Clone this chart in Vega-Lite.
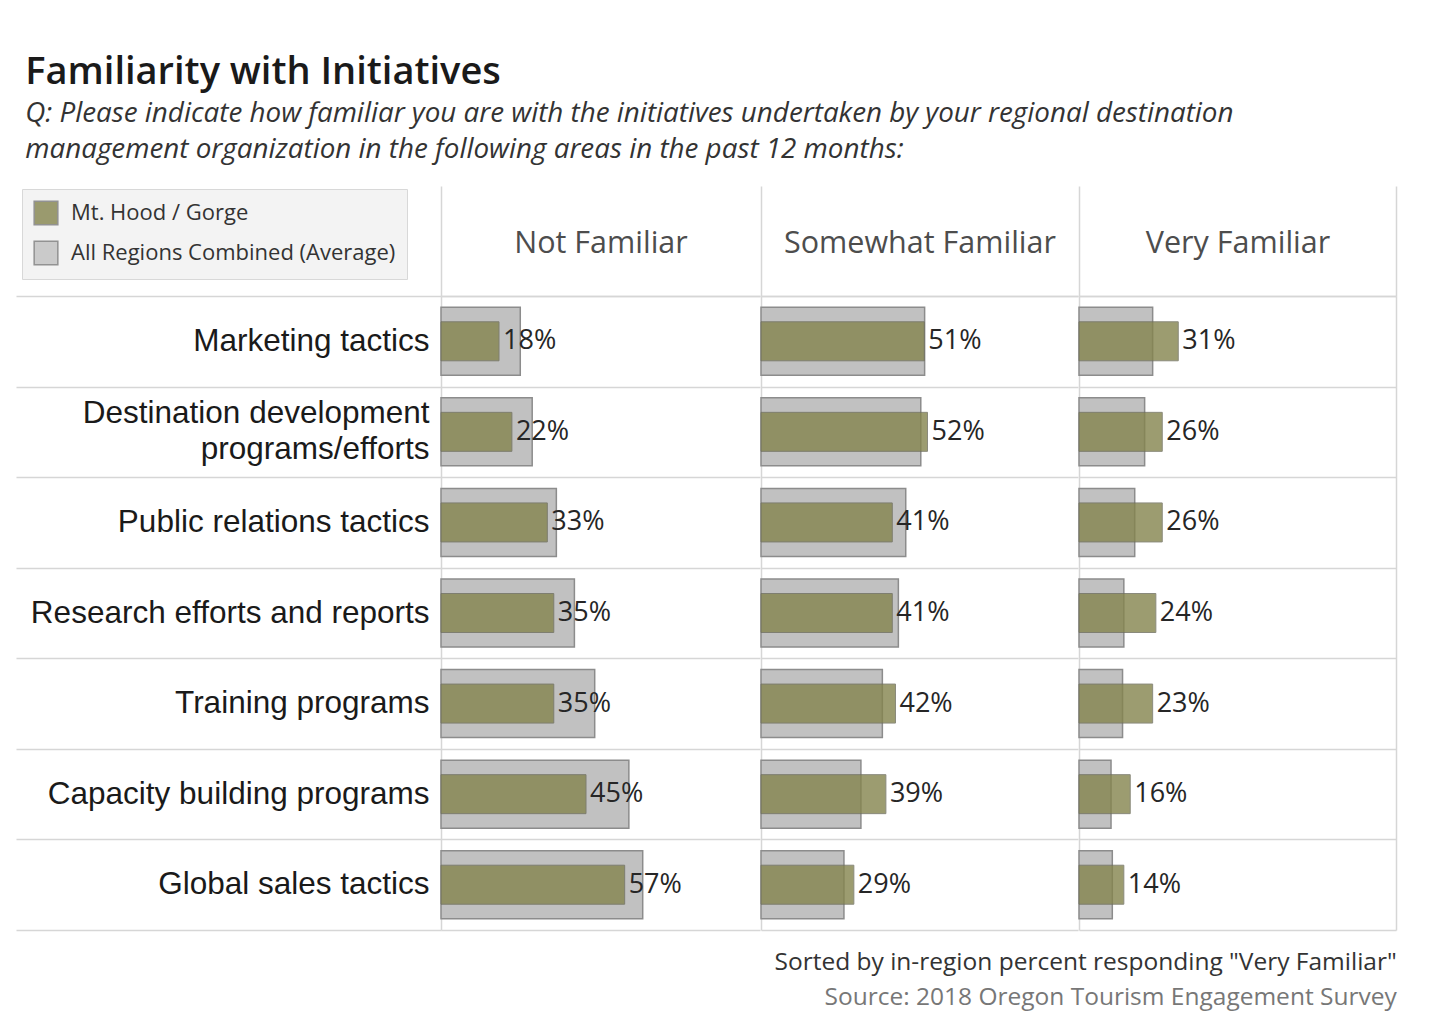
{
  "$schema": "https://vega.github.io/schema/vega-lite/v6.json",
  "background": "white",
  "padding": {"left": 15, "top": 54, "right": 34, "bottom": 10},
  "title": {
    "text": "Familiarity with Initiatives",
    "subtitle": ["Q: Please indicate how familiar you are with the initiatives undertaken by your regional destination", "management organization in the following areas in the past 12 months:"],
    "anchor": "start",
    "frame": "bounds",
    "dx": 10,
    "font": "Open Sans",
    "fontSize": 38,
    "fontWeight": 600,
    "color": "#1a1a1a",
    "subtitleFont": "Open Sans",
    "subtitleFontSize": 27.8,
    "subtitleFontStyle": "italic",
    "subtitleColor": "#333333",
    "subtitleLineHeight": 36,
    "subtitlePadding": 8,
    "offset": 21
  },
  "datasets": {
    "d": [
      {"initiative": "Marketing tactics", "familiarity": "Not Familiar", "series": "Mt. Hood / Gorge", "value": 0.18},
      {"initiative": "Marketing tactics", "familiarity": "Somewhat Familiar", "series": "Mt. Hood / Gorge", "value": 0.51},
      {"initiative": "Marketing tactics", "familiarity": "Very Familiar", "series": "Mt. Hood / Gorge", "value": 0.31},
      {"initiative": "Destination development programs/efforts", "familiarity": "Not Familiar", "series": "Mt. Hood / Gorge", "value": 0.22},
      {"initiative": "Destination development programs/efforts", "familiarity": "Somewhat Familiar", "series": "Mt. Hood / Gorge", "value": 0.52},
      {"initiative": "Destination development programs/efforts", "familiarity": "Very Familiar", "series": "Mt. Hood / Gorge", "value": 0.26},
      {"initiative": "Public relations tactics", "familiarity": "Not Familiar", "series": "Mt. Hood / Gorge", "value": 0.33},
      {"initiative": "Public relations tactics", "familiarity": "Somewhat Familiar", "series": "Mt. Hood / Gorge", "value": 0.41},
      {"initiative": "Public relations tactics", "familiarity": "Very Familiar", "series": "Mt. Hood / Gorge", "value": 0.26},
      {"initiative": "Research efforts and reports", "familiarity": "Not Familiar", "series": "Mt. Hood / Gorge", "value": 0.35},
      {"initiative": "Research efforts and reports", "familiarity": "Somewhat Familiar", "series": "Mt. Hood / Gorge", "value": 0.41},
      {"initiative": "Research efforts and reports", "familiarity": "Very Familiar", "series": "Mt. Hood / Gorge", "value": 0.24},
      {"initiative": "Training programs", "familiarity": "Not Familiar", "series": "Mt. Hood / Gorge", "value": 0.35},
      {"initiative": "Training programs", "familiarity": "Somewhat Familiar", "series": "Mt. Hood / Gorge", "value": 0.42},
      {"initiative": "Training programs", "familiarity": "Very Familiar", "series": "Mt. Hood / Gorge", "value": 0.23},
      {"initiative": "Capacity building programs", "familiarity": "Not Familiar", "series": "Mt. Hood / Gorge", "value": 0.45},
      {"initiative": "Capacity building programs", "familiarity": "Somewhat Familiar", "series": "Mt. Hood / Gorge", "value": 0.39},
      {"initiative": "Capacity building programs", "familiarity": "Very Familiar", "series": "Mt. Hood / Gorge", "value": 0.16},
      {"initiative": "Global sales tactics", "familiarity": "Not Familiar", "series": "Mt. Hood / Gorge", "value": 0.57},
      {"initiative": "Global sales tactics", "familiarity": "Somewhat Familiar", "series": "Mt. Hood / Gorge", "value": 0.29},
      {"initiative": "Global sales tactics", "familiarity": "Very Familiar", "series": "Mt. Hood / Gorge", "value": 0.14},
      {"initiative": "Marketing tactics", "familiarity": "Not Familiar", "series": "All Regions Combined (Average)", "value": 0.246},
      {"initiative": "Marketing tactics", "familiarity": "Somewhat Familiar", "series": "All Regions Combined (Average)", "value": 0.511},
      {"initiative": "Marketing tactics", "familiarity": "Very Familiar", "series": "All Regions Combined (Average)", "value": 0.230},
      {"initiative": "Destination development programs/efforts", "familiarity": "Not Familiar", "series": "All Regions Combined (Average)", "value": 0.283},
      {"initiative": "Destination development programs/efforts", "familiarity": "Somewhat Familiar", "series": "All Regions Combined (Average)", "value": 0.499},
      {"initiative": "Destination development programs/efforts", "familiarity": "Very Familiar", "series": "All Regions Combined (Average)", "value": 0.205},
      {"initiative": "Public relations tactics", "familiarity": "Not Familiar", "series": "All Regions Combined (Average)", "value": 0.358},
      {"initiative": "Public relations tactics", "familiarity": "Somewhat Familiar", "series": "All Regions Combined (Average)", "value": 0.452},
      {"initiative": "Public relations tactics", "familiarity": "Very Familiar", "series": "All Regions Combined (Average)", "value": 0.174},
      {"initiative": "Research efforts and reports", "familiarity": "Not Familiar", "series": "All Regions Combined (Average)", "value": 0.414},
      {"initiative": "Research efforts and reports", "familiarity": "Somewhat Familiar", "series": "All Regions Combined (Average)", "value": 0.429},
      {"initiative": "Research efforts and reports", "familiarity": "Very Familiar", "series": "All Regions Combined (Average)", "value": 0.140},
      {"initiative": "Training programs", "familiarity": "Not Familiar", "series": "All Regions Combined (Average)", "value": 0.477},
      {"initiative": "Training programs", "familiarity": "Somewhat Familiar", "series": "All Regions Combined (Average)", "value": 0.379},
      {"initiative": "Training programs", "familiarity": "Very Familiar", "series": "All Regions Combined (Average)", "value": 0.136},
      {"initiative": "Capacity building programs", "familiarity": "Not Familiar", "series": "All Regions Combined (Average)", "value": 0.583},
      {"initiative": "Capacity building programs", "familiarity": "Somewhat Familiar", "series": "All Regions Combined (Average)", "value": 0.312},
      {"initiative": "Capacity building programs", "familiarity": "Very Familiar", "series": "All Regions Combined (Average)", "value": 0.100},
      {"initiative": "Global sales tactics", "familiarity": "Not Familiar", "series": "All Regions Combined (Average)", "value": 0.626},
      {"initiative": "Global sales tactics", "familiarity": "Somewhat Familiar", "series": "All Regions Combined (Average)", "value": 0.259},
      {"initiative": "Global sales tactics", "familiarity": "Very Familiar", "series": "All Regions Combined (Average)", "value": 0.104}
    ]
  },
  "data": {"name": "d"},
  "spacing": 0,
  "resolve": {"scale": {"color": "shared"}, "legend": {"color": "shared"}},
  "vconcat": [
    {
      "title": {
        "text": "Sorted by in-region percent responding \"Very Familiar\"",
        "subtitle": "Source: 2018 Oregon Tourism Engagement Survey",
        "orient": "bottom", "anchor": "end", "frame": "bounds",
        "font": "Open Sans", "fontSize": 24.5, "fontWeight": "normal", "color": "#333333",
        "subtitleFont": "Open Sans", "subtitleFontSize": 24.5, "subtitleColor": "#777777", "subtitlePadding": 11,
        "offset": 20
      },
      "spacing": 0,
      "resolve": {"scale": {"color": "shared", "x": "independent", "y": "independent"}, "legend": {"color": "shared"}},
      "hconcat": [
        {
          "width": 319,
          "height": 634,
          "transform": [{"filter": "datum.familiarity == 'Not Familiar'"}],
          "encoding": {
            "y": {
              "field": "initiative", "type": "nominal",
              "sort": ["Marketing tactics", "Destination development programs/efforts", "Public relations tactics", "Research efforts and reports", "Training programs", "Capacity building programs", "Global sales tactics"],
              "scale": {"paddingInner": 0, "paddingOuter": 0},
              "axis": {
                "title": null, "tickBand": "extent", "grid": true, "gridColor": "#d6d6d6", "gridWidth": 1.5,
                "ticks": true, "tickSize": 425, "tickColor": "#d6d6d6", "tickWidth": 1.5, "domain": false,
                "labelPadding": -413, "labelFont": "Liberation Sans", "labelFontSize": 31.5, "labelColor": "#1a1a1a",
                "labelLimit": 600, "labelLineHeight": 36,
                "labelOffset": {"condition": {"test": "datum.value == 'Destination development programs/efforts'", "value": -18}, "value": 0},
                "labelExpr": "datum.label == 'Destination development programs/efforts' ? ['Destination development', 'programs/efforts'] : datum.label",
                "minExtent": 425, "maxExtent": 430
              }
            },
            "x": {
              "field": "value", "type": "quantitative",
              "scale": {"domain": [0, 0.99]},
              "axis": {
                "orient": "top", "values": [0], "grid": true, "gridColor": "#d6d6d6", "gridWidth": 1.5,
                "ticks": true, "tickSize": 110, "tickColor": "#d6d6d6", "tickWidth": 1.5, "labels": false,
                "domain": true, "domainColor": "#d6d6d6", "domainWidth": 1.5,
                "title": "Not Familiar", "titleFont": "Open Sans", "titleFontSize": 30.5, "titleFontWeight": "normal",
                "titleColor": "#4d4d4d", "titleY": -44, "titleBaseline": "alphabetic", "minExtent": 110, "maxExtent": 112
              }
            }
          },
          "layer": [
            {
              "transform": [{"filter": "datum.series == 'All Regions Combined (Average)'"}],
              "mark": {"type": "bar", "size": 68, "stroke": "#8c8c8c", "strokeWidth": 1.5},
              "encoding": {"color": {"field": "series", "type": "nominal", "scale": {"domain": ["Mt. Hood / Gorge", "All Regions Combined (Average)"], "range": ["#84844d", "#c1c1c1"]}, "legend": {"orient": "none", "legendX": -419, "legendY": -107, "title": null, "encode": {"symbols": {"update": {"stroke": {"value": "#7a7a7a"}, "strokeWidth": {"value": 1.5}, "opacity": {"value": 0.8}}}}}}}
            },
            {
              "transform": [{"filter": "datum.series == 'Mt. Hood / Gorge'"}],
              "mark": {"type": "bar", "size": 39, "opacity": 0.8, "stroke": "#6e6e5c", "strokeWidth": 1},
              "encoding": {"color": {"field": "series", "type": "nominal", "scale": {"domain": ["Mt. Hood / Gorge", "All Regions Combined (Average)"], "range": ["#84844d", "#c1c1c1"]}, "legend": {"orient": "none", "legendX": -419, "legendY": -107, "title": null, "encode": {"symbols": {"update": {"stroke": {"value": "#7a7a7a"}, "strokeWidth": {"value": 1.5}, "opacity": {"value": 0.8}}}}}}}
            },
            {
              "transform": [{"filter": "datum.series == 'Mt. Hood / Gorge'"}],
              "mark": {"type": "text", "align": "left", "baseline": "middle", "dx": 4, "font": "Open Sans", "fontSize": 27, "color": "#262626"},
              "encoding": {"text": {"field": "value", "type": "quantitative", "format": ".0%"}}
            }
          ]
        },
        {
          "width": 317,
          "height": 634,
          "transform": [{"filter": "datum.familiarity == 'Somewhat Familiar'"}],
          "encoding": {
            "y": {
              "field": "initiative", "type": "nominal",
              "sort": ["Marketing tactics", "Destination development programs/efforts", "Public relations tactics", "Research efforts and reports", "Training programs", "Capacity building programs", "Global sales tactics"],
              "scale": {"paddingInner": 0, "paddingOuter": 0},
              "axis": {"title": null, "tickBand": "extent", "grid": true, "gridColor": "#d6d6d6", "gridWidth": 1.5, "ticks": false, "labels": false, "domain": false, "minExtent": 0, "maxExtent": 0}
            },
            "x": {
              "field": "value", "type": "quantitative",
              "scale": {"domain": [0, 0.99]},
              "axis": {
                "orient": "top", "values": [0], "grid": true, "gridColor": "#d6d6d6", "gridWidth": 1.5,
                "ticks": true, "tickSize": 110, "tickColor": "#d6d6d6", "tickWidth": 1.5, "labels": false,
                "domain": true, "domainColor": "#d6d6d6", "domainWidth": 1.5,
                "title": "Somewhat Familiar", "titleFont": "Open Sans", "titleFontSize": 30.5, "titleFontWeight": "normal",
                "titleColor": "#4d4d4d", "titleY": -44, "titleBaseline": "alphabetic", "minExtent": 110, "maxExtent": 112
              }
            }
          },
          "layer": [
            {
              "transform": [{"filter": "datum.series == 'All Regions Combined (Average)'"}],
              "mark": {"type": "bar", "size": 68, "stroke": "#8c8c8c", "strokeWidth": 1.5},
              "encoding": {"color": {"field": "series", "type": "nominal", "scale": {"domain": ["Mt. Hood / Gorge", "All Regions Combined (Average)"], "range": ["#84844d", "#c1c1c1"]}, "legend": {"orient": "none", "legendX": -419, "legendY": -107, "title": null, "encode": {"symbols": {"update": {"stroke": {"value": "#7a7a7a"}, "strokeWidth": {"value": 1.5}, "opacity": {"value": 0.8}}}}}}}
            },
            {
              "transform": [{"filter": "datum.series == 'Mt. Hood / Gorge'"}],
              "mark": {"type": "bar", "size": 39, "opacity": 0.8, "stroke": "#6e6e5c", "strokeWidth": 1},
              "encoding": {"color": {"field": "series", "type": "nominal", "scale": {"domain": ["Mt. Hood / Gorge", "All Regions Combined (Average)"], "range": ["#84844d", "#c1c1c1"]}, "legend": {"orient": "none", "legendX": -419, "legendY": -107, "title": null, "encode": {"symbols": {"update": {"stroke": {"value": "#7a7a7a"}, "strokeWidth": {"value": 1.5}, "opacity": {"value": 0.8}}}}}}}
            },
            {
              "transform": [{"filter": "datum.series == 'Mt. Hood / Gorge'"}],
              "mark": {"type": "text", "align": "left", "baseline": "middle", "dx": 4, "font": "Open Sans", "fontSize": 27, "color": "#262626"},
              "encoding": {"text": {"field": "value", "type": "quantitative", "format": ".0%"}}
            }
          ]
        },
        {
          "width": 317,
          "height": 634,
          "transform": [{"filter": "datum.familiarity == 'Very Familiar'"}],
          "encoding": {
            "y": {
              "field": "initiative", "type": "nominal",
              "sort": ["Marketing tactics", "Destination development programs/efforts", "Public relations tactics", "Research efforts and reports", "Training programs", "Capacity building programs", "Global sales tactics"],
              "scale": {"paddingInner": 0, "paddingOuter": 0},
              "axis": {"title": null, "tickBand": "extent", "grid": true, "gridColor": "#d6d6d6", "gridWidth": 1.5, "ticks": false, "labels": false, "domain": false, "minExtent": 0, "maxExtent": 0}
            },
            "x": {
              "field": "value", "type": "quantitative",
              "scale": {"domain": [0, 0.99]},
              "axis": {
                "orient": "top", "values": [0, 0.99], "grid": true, "gridColor": "#d6d6d6", "gridWidth": 1.5,
                "ticks": true, "tickSize": 110, "tickColor": "#d6d6d6", "tickWidth": 1.5, "labels": false,
                "domain": true, "domainColor": "#d6d6d6", "domainWidth": 1.5,
                "title": "Very Familiar", "titleFont": "Open Sans", "titleFontSize": 30.5, "titleFontWeight": "normal",
                "titleColor": "#4d4d4d", "titleY": -44, "titleBaseline": "alphabetic", "minExtent": 110, "maxExtent": 112
              }
            }
          },
          "layer": [
            {
              "transform": [{"filter": "datum.series == 'All Regions Combined (Average)'"}],
              "mark": {"type": "bar", "size": 68, "stroke": "#8c8c8c", "strokeWidth": 1.5},
              "encoding": {"color": {"field": "series", "type": "nominal", "scale": {"domain": ["Mt. Hood / Gorge", "All Regions Combined (Average)"], "range": ["#84844d", "#c1c1c1"]}, "legend": {"orient": "none", "legendX": -419, "legendY": -107, "title": null, "encode": {"symbols": {"update": {"stroke": {"value": "#7a7a7a"}, "strokeWidth": {"value": 1.5}, "opacity": {"value": 0.8}}}}}}}
            },
            {
              "transform": [{"filter": "datum.series == 'Mt. Hood / Gorge'"}],
              "mark": {"type": "bar", "size": 39, "opacity": 0.8, "stroke": "#6e6e5c", "strokeWidth": 1},
              "encoding": {"color": {"field": "series", "type": "nominal", "scale": {"domain": ["Mt. Hood / Gorge", "All Regions Combined (Average)"], "range": ["#84844d", "#c1c1c1"]}, "legend": {"orient": "none", "legendX": -419, "legendY": -107, "title": null, "encode": {"symbols": {"update": {"stroke": {"value": "#7a7a7a"}, "strokeWidth": {"value": 1.5}, "opacity": {"value": 0.8}}}}}}}
            },
            {
              "transform": [{"filter": "datum.series == 'Mt. Hood / Gorge'"}],
              "mark": {"type": "text", "align": "left", "baseline": "middle", "dx": 4, "font": "Open Sans", "fontSize": 27, "color": "#262626"},
              "encoding": {"text": {"field": "value", "type": "quantitative", "format": ".0%"}}
            }
          ]
        }
      ]
    }
  ],
  "config": {
    "view": {"stroke": null},
    "legend": {
      "fillColor": "#f3f3f3", "strokeColor": "#d8d8d8", "padding": 11,
      "symbolType": "square", "symbolSize": 560, "symbolStrokeWidth": 1.5, "symbolStrokeColor": "#7a7a7a",
      "labelFont": "Open Sans", "labelFontSize": 22, "labelColor": "#333333", "labelOffset": 12,
      "labelLimit": 500, "rowPadding": 10
    }
  }
}
